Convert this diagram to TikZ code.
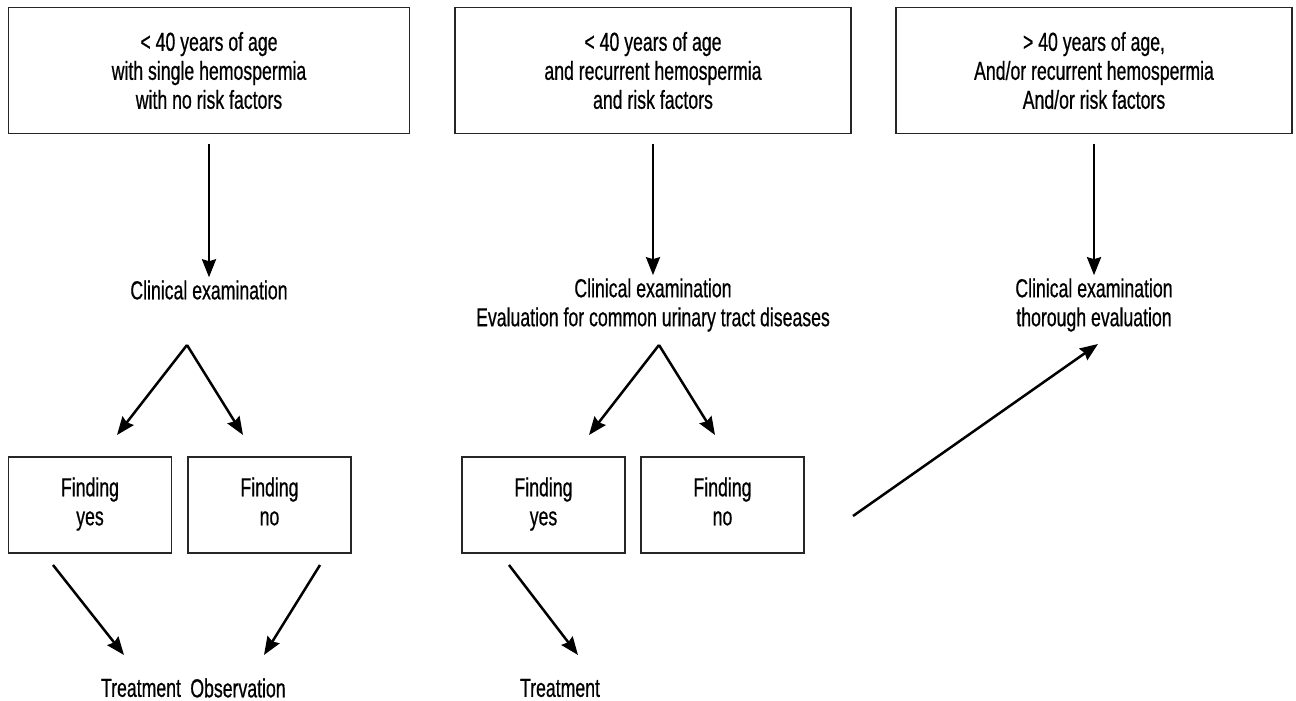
\documentclass[tikz,border=0pt]{standalone}
\usepackage{fontspec}
\setmainfont{Liberation Sans}[FakeStretch=0.68, FakeBold=0.6]
\usetikzlibrary{arrows.meta}
\tikzstyle{txt}=[align=center, inner sep=0pt, font=\fontsize{26}{29}\selectfont]
\tikzstyle{topbox}=[txt, draw=black!85, line width=1.3pt, minimum width=396pt, minimum height=126pt]
\tikzstyle{findbox}=[txt, draw=black!85, line width=1.3pt, minimum width=163pt, minimum height=96pt]
\tikzstyle{arr}=[line width=2.5pt, -{Stealth[length=18pt, width=14pt, inset=2pt]}]
\newcommand{\finding}{\node[findbox]}

\begin{document}
\begin{tikzpicture}[x=1pt, y=-1pt]
\useasboundingbox (0,0) rectangle (1296,701);
\node[topbox, minimum width=401pt] (top1) at (209,70.5) {< 40 years of age\\with single hemospermia\\with no risk factors};
\node[topbox] (top2) at (653,70.5) {< 40 years of age\\and recurrent hemospermia\\and risk factors};
\node[topbox] (top3) at (1094,70.5) {> 40 years of age,\\And/or recurrent hemospermia\\And/or risk factors};
\node[txt] (clin1) at (209,290) {Clinical examination};
\node[txt] (clin2) at (653,305) {Clinical examination\\Evaluation for common urinary tract diseases};
\node[txt] (clin3) at (1094,305) {Clinical examination\\thorough evaluation};
\finding (yes1) at (90,505) {\strut Finding\\yes\strut};
\finding (no1) at (269.5,505) {\strut Finding\\no\strut};
\finding (yes2) at (543.5,505) {\strut Finding\\yes\strut};
\finding (no2) at (722.5,505) {\strut Finding\\no\strut};
\node[txt] (treat1) at (141,688) {Treatment};
\node[txt] (obs1) at (238,688) {Observation};
\node[txt] (treat2) at (560,688) {Treatment};
% free ends of the slanted arrows
\coordinate (f1) at (187,345);
\coordinate (f1yes) at (117,435);
\coordinate (f1no) at (243,435);
\coordinate (f2) at (659,345);
\coordinate (f2yes) at (589,435);
\coordinate (f2no) at (715,435);
\coordinate (t1a) at (53,565);
\coordinate (t1b) at (124,655);
\coordinate (o1a) at (320,565);
\coordinate (o1b) at (264,655);
\coordinate (t2a) at (509,565);
\coordinate (t2b) at (578,655);
\coordinate (up) at (853,516);
\coordinate (up3) at (1098,344);
\draw[arr, shorten <=9.5pt, shorten >=3pt] (top1.south) -- (clin1.north);
\draw[arr, shorten <=9.5pt, shorten >=3pt] (top2.south) -- (clin2.north);
\draw[arr, shorten <=9.5pt, shorten >=3pt] (top3.south) -- (clin3.north);
\draw[arr] (f1) -- (f1yes);
\draw[arr] (f1) -- (f1no);
\draw[arr] (f2) -- (f2yes);
\draw[arr] (f2) -- (f2no);
\draw[arr] (t1a) -- (t1b);
\draw[arr] (o1a) -- (o1b);
\draw[arr] (t2a) -- (t2b);
\draw[arr] (up) -- (up3);
\end{tikzpicture}
\end{document}
